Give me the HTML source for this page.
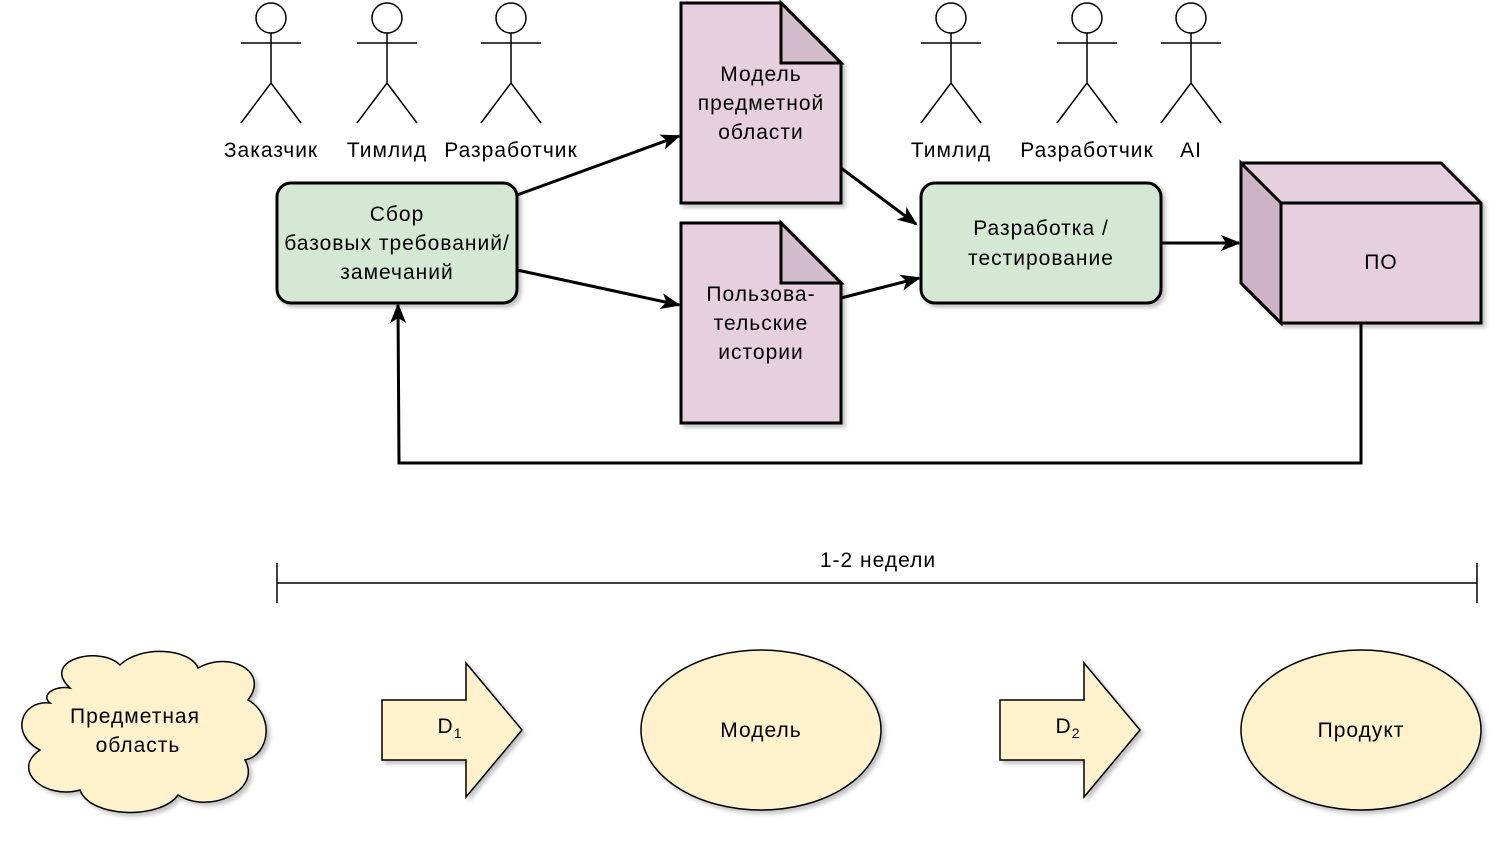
<!DOCTYPE html>
<html><head><meta charset="utf-8"><style>
html,body{margin:0;padding:0;background:#fff;}
svg{display:block;font-family:"Liberation Sans",Helvetica,Arial,sans-serif;}
.t{font-size:21px;letter-spacing:1px;}
</style></head><body>
<svg width="1506" height="844" viewBox="0 0 1506 844" xmlns="http://www.w3.org/2000/svg">
<defs>
<filter id="sh" x="-10%" y="-10%" width="130%" height="130%"><feDropShadow dx="3" dy="3" stdDeviation="2" flood-color="#000" flood-opacity="0.25"/></filter>
<marker id="ar2" markerWidth="20" markerHeight="20" refX="18" refY="10" orient="auto" markerUnits="userSpaceOnUse"><path d="M0,2 L20,10 L0,18 L5,10 Z" fill="#000"/></marker>
</defs>
<g stroke="#000" stroke-width="1.5" fill="#fff">
<g id="a1"><circle cx="271" cy="18" r="15"/><path d="M271,33 V83 M241,43 H301 M271,83 L241,123 M271,83 L301,123" fill="none"/></g>
<use href="#a1" x="116"/><use href="#a1" x="240"/><use href="#a1" x="680"/><use href="#a1" x="816"/><use href="#a1" x="920"/>
</g>
<g class="t" text-anchor="middle" fill="#000">
<text x="271" y="157">Заказчик</text><text x="387" y="157">Тимлид</text><text x="511" y="157">Разработчик</text>
<text x="951" y="157">Тимлид</text><text x="1087" y="157">Разработчик</text><text x="1191" y="157">AI</text>
</g>
<g stroke="#000" stroke-width="3" filter="url(#sh)">
<rect x="277" y="183" width="240" height="120" rx="14" fill="#d5e8d4"/>
<rect x="921" y="183" width="240" height="120" rx="14" fill="#d5e8d4"/>
<path d="M681,3 H781 L841,63 V203 H681 Z" fill="#e6d0de"/>
<path d="M681,223 H781 L841,283 V423 H681 Z" fill="#e6d0de"/>
<path d="M1241,163 H1441 L1481,203 V323 H1281 L1241,283 Z" fill="#e6d0de"/>
</g>
<g stroke="#000" stroke-width="3">
<path d="M781,3 V63 H841 Z" fill="#d3bccc"/>
<path d="M781,223 V283 H841 Z" fill="#d3bccc"/>
<path d="M1241,163 L1281,203 V323 L1241,283 Z" fill="#cdb3c6"/>
<path d="M1281,203 H1481" fill="none"/>
</g>
<g stroke="#000" stroke-width="3" fill="none" marker-end="url(#ar2)">
<path d="M517,195 L679,136"/>
<path d="M517,270 L679,305"/>
<path d="M841,168 L916,224"/>
<path d="M841,298 L919,278"/>
<path d="M1161,243 L1239,243"/>
<path d="M1361,323 V463 H399 L398,305"/>
</g>
<g class="t" text-anchor="middle" fill="#000">
<text x="397" y="221">Сбор</text><text x="397" y="250">базовых требований/</text><text x="397" y="279">замечаний</text>
<text x="761" y="81">Модель</text><text x="761" y="110">предметной</text><text x="761" y="139">области</text>
<text x="761" y="301">Пользова-</text><text x="761" y="330">тельские</text><text x="761" y="359">истории</text>
<text x="1041" y="235">Разработка /</text><text x="1041" y="265">тестирование</text>
<text x="1381" y="269">ПО</text>
<text x="878" y="567">1-2 недели</text>
</g>
<path d="M277,583 H1477 M277,563 V603 M1477,563 V603" stroke="#000" stroke-width="1.5"/>
<g stroke="#000" stroke-width="1.5" fill="#fff2cc" filter="url(#sh)">
<path d="M70,688 C40,660 100,645 120,665 C140,645 190,648 198,668 C230,650 270,672 248,700 C275,715 270,755 245,760 C262,790 210,815 178,795 C160,820 90,818 80,790 C45,800 10,770 40,750 C10,735 20,700 50,703 C40,695 55,685 70,688 Z"/>
<path d="M382,700 H466 V663 L522,730 L466,797 V760 H382 Z"/>
<path d="M1000,700 H1084 V663 L1140,730 L1084,797 V760 H1000 Z"/>
<ellipse cx="761" cy="730" rx="120" ry="80"/>
<ellipse cx="1361" cy="730" rx="120" ry="80"/>
</g>
<g class="t" text-anchor="middle" fill="#000">
<text x="135" y="723">Предметная</text><text x="138" y="752">область</text>
<text x="450" y="733">D<tspan font-size="14" dy="5">1</tspan></text>
<text x="1068" y="733">D<tspan font-size="14" dy="5">2</tspan></text>
<text x="761" y="737">Модель</text>
<text x="1361" y="737">Продукт</text>
</g>
</svg>
</body></html>
